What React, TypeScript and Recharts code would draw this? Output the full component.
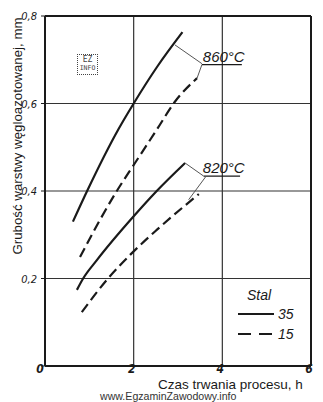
import React from 'react';
import {
  LineChart,
  Line,
  XAxis,
  YAxis,
  CartesianGrid,
  ReferenceLine,
  ReferenceDot,
} from 'recharts';

// czas trwania procesu [h] i grubość warstwy [mm]
const steel35at860X = [0.63, 0.95, 1.65, 2.0, 2.53, 3.1];
const steel35at860Y = [0.33, 0.4, 0.54, 0.6, 0.684, 0.763];
const steel15at860X = [0.79, 1.24, 1.62, 2.03, 2.52, 2.93, 3.43];
const steel15at860Y = [0.249, 0.334, 0.4, 0.464, 0.54, 0.604, 0.658];
const steel35at820X = [0.72, 0.86, 1.17, 1.99, 2.52, 3.16];
const steel35at820Y = [0.174, 0.2, 0.242, 0.341, 0.4, 0.464];
const steel15at820X = [0.83, 1.42, 1.92, 2.52, 3.47];
const steel15at820Y = [0.123, 0.2, 0.254, 0.311, 0.393];

const xTicks = [0, 2, 4, 6];
const yTicks = [0, 0.2, 0.4, 0.6, 0.8];
const steelGrades = ['35', '15'];
const temps = ['860°C', '820°C'];

const toPoints = (xs: number[], ys: number[]) => xs.map((x, i) => ({ x, y: ys[i] }));

const INK = '#1a1a1a';
const SANS = "'Liberation Sans', Arial, sans-serif";
const NARROW = "'Liberation Sans Narrow', 'DejaVu Sans Condensed', 'Liberation Sans', sans-serif";

const XTick = (props: any) => {
  const { x, y, payload } = props;
  const dx = payload.value === 0 ? -5 : -2;
  return (
    <text x={x + dx} y={y - 1} textAnchor="middle" fontFamily={NARROW} fontStyle="italic" fontWeight="bold" fontSize={12} fill={INK}>
      {payload.value}
    </text>
  );
};

const YTick = (props: any) => {
  const { y, payload } = props;
  if (payload.value === 0) return null;
  return (
    <text x={37} y={y + 4} textAnchor="end" fontFamily={NARROW} fontStyle="italic" fontSize={11} fill={INK}>
      {payload.value.toFixed(1).replace('.', ',')}
    </text>
  );
};

const TempLabel = (props: any) => {
  const { viewBox, text } = props;
  return (
    <text x={viewBox.x} y={viewBox.y} fontFamily={SANS} fontStyle="italic" fontSize={15} fill={INK}>
      {text}
    </text>
  );
};

const LegendBox = () => (
  <div style={{ fontFamily: SANS, fontStyle: 'italic', color: INK, lineHeight: 1 }}>
    <div style={{ fontSize: 14, marginLeft: 9, marginBottom: 2 }}>Stal</div>
    {steelGrades.map((g, i) => (
      <div key={g} style={{ display: 'flex', alignItems: 'center', height: 20 }}>
        <svg width={40} height={6}>
          <line x1={0} y1={3} x2={36} y2={3} stroke={INK} strokeWidth={2.2} strokeDasharray={i === 0 ? undefined : '13 8'} />
        </svg>
        <span style={{ fontSize: 14 }}>{g}</span>
      </div>
    ))}
  </div>
);

export default function App() {
  const border = { stroke: INK, strokeWidth: 2 };
  const leader = { stroke: '#555', strokeWidth: 1 };
  return (
    <div style={{ position: 'absolute', left: 0, top: 0, width: 323, height: 402, background: '#fff' }}>
      <LineChart width={323} height={402} margin={{ top: 16, right: 12, bottom: 0, left: 0 }}>
        <CartesianGrid stroke="#333" strokeWidth={1.2} />
        <XAxis
          type="number"
          dataKey="x"
          domain={[0, 6]}
          ticks={xTicks}
          height={36}
          axisLine={false}
          tickLine={false}
          tick={<XTick />}
          interval={0}
        />
        <YAxis
          type="number"
          dataKey="y"
          domain={[0, 0.8]}
          ticks={yTicks}
          width={45}
          axisLine={false}
          tickLine={{ stroke: INK }}
          tickSize={4}
          tick={<YTick />}
          interval={0}
        />
        <ReferenceLine x={0} {...border} />
        <ReferenceLine x={6} {...border} />
        <ReferenceLine y={0} {...border} />
        <ReferenceLine y={0.8} {...border} />

        <Line data={toPoints(steel35at860X, steel35at860Y)} dataKey="y" type="monotone" stroke={INK} strokeWidth={2.2} dot={false} isAnimationActive={false} />
        <Line data={toPoints(steel15at860X, steel15at860Y)} dataKey="y" type="monotone" stroke={INK} strokeWidth={2.2} strokeDasharray="10 5" dot={false} isAnimationActive={false} />
        <Line data={toPoints(steel35at820X, steel35at820Y)} dataKey="y" type="monotone" stroke={INK} strokeWidth={2.2} dot={false} isAnimationActive={false} />
        <Line data={toPoints(steel15at820X, steel15at820Y)} dataKey="y" type="monotone" stroke={INK} strokeWidth={2.2} strokeDasharray="10 5" dot={false} isAnimationActive={false} />

        {/* 860°C */}
        <ReferenceLine segment={[{ x: 2.93, y: 0.734 }, { x: 3.54, y: 0.691 }]} {...leader} />
        <ReferenceLine segment={[{ x: 3.54, y: 0.689 }, { x: 3.43, y: 0.658 }]} {...leader} />
        <ReferenceLine segment={[{ x: 3.54, y: 0.689 }, { x: 4.44, y: 0.689 }]} stroke={INK} strokeWidth={1.2} />
        <ReferenceDot x={3.56} y={0.695} r={0} fill="none" stroke="none" label={<TempLabel text={temps[0]} />} />

        {/* 820°C */}
        <ReferenceLine segment={[{ x: 3.16, y: 0.464 }, { x: 3.58, y: 0.434 }]} {...leader} />
        <ReferenceLine segment={[{ x: 3.62, y: 0.432 }, { x: 3.24, y: 0.38 }]} {...leader} />
        <ReferenceLine segment={[{ x: 3.58, y: 0.434 }, { x: 4.4, y: 0.434 }]} stroke={INK} strokeWidth={1.2} />
        <ReferenceDot x={3.56} y={0.442} r={0} fill="none" stroke="none" label={<TempLabel text={temps[1]} />} />
      </LineChart>

      <div style={{ position: 'absolute', left: 238, top: 288, width: 70 }}>
        <LegendBox />
      </div>

      <div
        style={{
          position: 'absolute',
          left: 17,
          top: 136,
          transform: 'translate(-50%, -50%) rotate(-90deg)',
          whiteSpace: 'nowrap',
          fontFamily: SANS,
          fontSize: 13.3,
          color: INK,
        }}
      >
        Grubość warstwy węgloazotowanej, mm
      </div>
      <div style={{ position: 'absolute', left: 158, top: 378, fontFamily: SANS, fontSize: 13.5, lineHeight: '13px', color: INK, whiteSpace: 'nowrap' }}>
        Czas trwania procesu, h
      </div>
      <div style={{ position: 'absolute', left: 100, top: 391, fontFamily: SANS, fontSize: 10.6, lineHeight: '11px', color: '#333', whiteSpace: 'nowrap' }}>
        www.EgzaminZawodowy.info
      </div>
      <div
        style={{
          position: 'absolute',
          left: 77,
          top: 54,
          width: 19,
          height: 19,
          border: '1px dotted #444',
          fontFamily: "'DejaVu Sans Mono', monospace",
          fontSize: 8,
          lineHeight: '9px',
          textAlign: 'center',
          color: '#444',
        }}
      >
        <div>EZ</div>
        <div style={{ fontSize: 6.5 }}>INFO</div>
      </div>
    </div>
  );
}
